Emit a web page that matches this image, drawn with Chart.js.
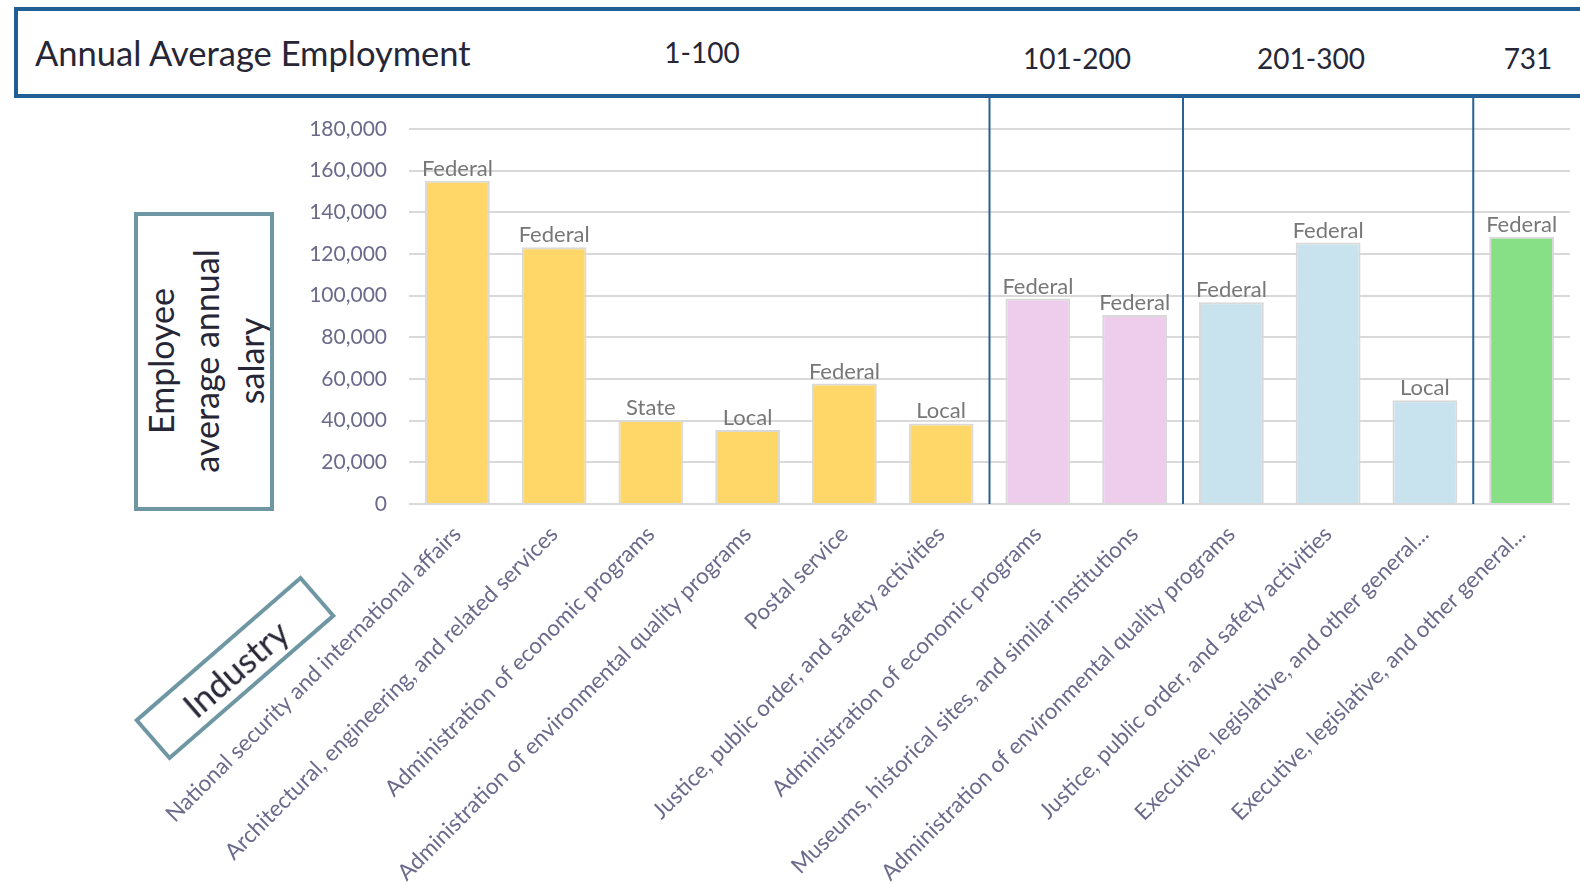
<!DOCTYPE html>
<html><head><meta charset="utf-8">
<script src="https://cdn.jsdelivr.net/npm/chart.js@4"></script>
<style>
html,body{margin:0;padding:0;background:#fff;overflow:hidden;}
#wrap{position:relative;width:1580px;height:884px;}
#c{position:absolute;left:0;top:0;}
.hdr{position:absolute;left:14px;top:7px;width:1640px;height:91px;box-sizing:border-box;border:4px solid #1f5f93;}
.t{position:absolute;font-family:Lato,"Open Sans",sans-serif;color:#262636;white-space:nowrap;line-height:1;}
.g{transform:translateX(-50%);font-size:28px;}
.ybox{position:absolute;left:134px;top:212px;width:140px;height:299px;box-sizing:border-box;border:4px solid #6e97a3;}
.ytxt{position:absolute;left:205px;top:361px;transform:translate(-50%,-50%) rotate(-90deg);font-family:Lato,"Open Sans",sans-serif;font-size:34px;line-height:45px;color:#262636;text-align:center;white-space:nowrap;}
.ibox{position:absolute;left:235px;top:668px;width:221px;height:54px;box-sizing:border-box;border:4px solid #6e97a3;transform:translate(-50%,-50%) rotate(-41deg);display:flex;align-items:center;justify-content:center;font-family:Lato,"Open Sans",sans-serif;font-size:35px;color:#262636;}
</style></head>
<body>
<div id="wrap">
<div class="hdr"></div>
<div class="t" style="left:35px;top:36px;font-size:34.5px;">Annual Average Employment</div>
<div class="t g" id="g0" style="left:702px;top:38px;"></div>
<div class="t g" id="g1" style="left:1077px;top:44px;"></div>
<div class="t g" id="g2" style="left:1311px;top:44px;"></div>
<div class="t g" id="g3" style="left:1528px;top:44px;"></div>
<div class="ybox"></div>
<div class="ytxt">Employee<br>average annual<br>salary</div>
<canvas id="c" width="1580" height="884"></canvas>
<div class="ibox">Industry</div>
</div>
<script>
const categories = [
  "National security and international affairs",
  "Architectural, engineering, and related services",
  "Administration of economic programs",
  "Administration of environmental quality programs",
  "Postal service",
  "Justice, public order, and safety activities",
  "Administration of economic programs",
  "Museums, historical sites, and similar institutions",
  "Administration of environmental quality programs",
  "Justice, public order, and safety activities",
  "Executive, legislative, and other general...",
  "Executive, legislative, and other general..."
];
const salaries = [155200, 123200, 40300, 35500, 57800, 38700, 98600, 90700, 96800, 125500, 49800, 128300];
const sectors = ["Federal","Federal","State","Local","Federal","Local","Federal","Federal","Federal","Federal","Local","Federal"];
const groupLabels = ["1-100","101-200","201-300","731"];
const groupSizes = [6, 2, 3, 1];
const groupColors = ["#FED768", "#EDCDEB", "#C9E3EE", "#87DF86"];
const yTicks = [0, 20000, 40000, 60000, 80000, 100000, 120000, 140000, 160000, 180000];

const barColors = [];
groupSizes.forEach((n, g) => { for (let i = 0; i < n; i++) barColors.push(groupColors[g]); });
groupLabels.forEach((t, g) => { document.getElementById('g' + g).textContent = t; });

const zeroPad = () => ({ left: 0, top: 0, right: 0, bottom: 0 });

const overlay = {
  id: 'overlay',
  afterDatasetsDraw(chart) {
    const ctx = chart.ctx, x = chart.scales.x, area = chart.chartArea;
    const meta = chart.getDatasetMeta(0);
    ctx.save();
    ctx.font = '22px Lato, "Open Sans", sans-serif';
    ctx.fillStyle = '#777777';
    ctx.textAlign = 'center';
    ctx.textBaseline = 'bottom';
    meta.data.forEach((bar, i) => {
      ctx.fillText(sectors[i], bar.x, bar.y - 1);
    });
    ctx.strokeStyle = '#2a6096';
    ctx.lineWidth = 2;
    let idx = 0;
    groupSizes.forEach((n, g) => {
      const last = idx + n - 1;
      idx += n;
      if (g < groupSizes.length - 1) {
        const sx = (x.getPixelForValue(last) + x.getPixelForValue(last + 1)) / 2;
        ctx.beginPath();
        ctx.moveTo(sx, 96);
        ctx.lineTo(sx, area.bottom);
        ctx.stroke();
      }
    });
    ctx.restore();
  }
};

new Chart(document.getElementById('c'), {
  type: 'bar',
  data: {
    labels: categories,
    datasets: [{
      data: salaries,
      backgroundColor: barColors,
      borderColor: '#d9d9d9',
      borderWidth: 2,
      barPercentage: 0.67,
      categoryPercentage: 1.0
    }]
  },
  options: {
    responsive: false,
    animation: false,
    devicePixelRatio: 1,
    layout: { autoPadding: false, padding: { left: 303, top: 129, right: 10, bottom: 0 } },
    plugins: { legend: { display: false }, tooltip: { enabled: false } },
    scales: {
      y: {
        min: 0, max: 180000,
        afterFit(s) { s.width = 106; s.getPadding = zeroPad; },
        afterBuildTicks(s) { s.ticks = yTicks.map(v => ({ value: v })); },
        grid: { color: '#d9d9d9', lineWidth: 2, drawTicks: false },
        border: { display: false },
        ticks: {
          padding: 22,
          color: '#6b6a8c',
          font: { family: 'Lato, "Open Sans", sans-serif', size: 21 },
          callback: v => v.toLocaleString('en-US')
        }
      },
      x: {
        afterFit(s) { s.height = 380; s.getPadding = zeroPad; },
        grid: { display: false },
        border: { display: false },
        ticks: {
          autoSkip: false,
          minRotation: 45,
          maxRotation: 45,
          padding: 9,
          color: '#6b6a8c',
          font: { family: 'Lato, "Open Sans", sans-serif', size: 22.5 }
        }
      }
    }
  },
  plugins: [overlay]
});
</script>
</body></html>
